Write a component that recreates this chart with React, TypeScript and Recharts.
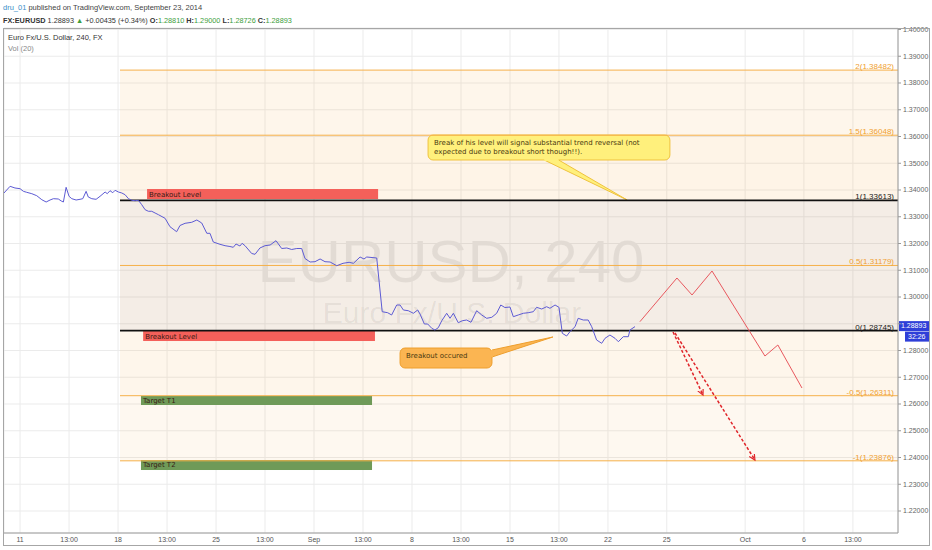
import React from 'react';
import {
  CartesianGrid,
  Line,
  LineChart,
  ReferenceArea,
  ReferenceLine,
  XAxis,
  YAxis,
} from 'recharts';

// trading days counted from Mon Aug 11 (weekends skipped), EURUSD 240
const dayIdx = [
  -0.82, -0.51, -0.26, 0, 0.17, 0.34, 0.6, 0.85, 1.11, 1.33, 1.53, 1.7, 1.95, 2.13, 2.21, 2.35, 2.5, 2.64,
  2.86, 3.06, 3.2, 3.37, 3.48, 3.66, 3.88, 4.08, 4.34, 4.45, 4.59, 4.73, 4.85, 5.02, 5.19, 5.36, 5.53, 5.7,
  5.87, 6.04, 6.21, 6.38, 6.55, 6.72, 6.89, 7.06, 7.4, 7.65, 7.99, 8.16, 8.42, 8.76, 9.02, 9.27, 9.53, 9.69,
  9.86, 10.2, 10.46, 10.71, 10.88, 11.02, 11.22, 11.33, 11.48, 11.82, 11.99, 12.24, 12.5, 12.76, 13.06, 13.35,
  13.61, 13.86, 14.12, 14.37, 14.54, 14.8, 15.05, 15.31, 15.56, 15.82, 16.16, 16.48, 16.79, 17.01, 17.35,
  17.55, 17.69, 18.2, 18.48, 18.76, 18.96, 19.22, 19.39, 19.56, 19.81, 20.07, 20.29, 20.41, 20.63, 20.8,
  21.01, 21.17, 21.34, 21.52, 21.77, 21.94, 22.11, 22.36, 22.57, 22.79, 23.01, 23.3, 23.56, 23.81, 24.07,
  24.32, 24.53, 24.74, 25.0, 25.17, 25.42, 25.68, 25.93, 26.19, 26.36, 26.62, 26.87, 27.04, 27.3, 27.5,
  27.67, 27.89, 28.06, 28.32, 28.48, 28.74, 28.99, 29.17, 29.42, 29.68, 29.85, 30.1, 30.36, 30.53, 30.78,
  31.04, 31.12, 31.38,
];
const close = [
  1.33888, 1.34138, 1.34075, 1.34049, 1.33951, 1.33914, 1.33862, 1.33787, 1.33637, 1.33551, 1.33626, 1.33675,
  1.33664, 1.33578, 1.33551, 1.34101, 1.33764, 1.33675, 1.33626, 1.33652, 1.33675, 1.33951, 1.33738, 1.33675,
  1.33652, 1.33764, 1.33925, 1.33862, 1.33974, 1.33899, 1.33989, 1.33925, 1.33888, 1.33824, 1.33675, 1.33615,
  1.336, 1.33615, 1.3345, 1.33264, 1.33204, 1.33204, 1.3314, 1.33077, 1.32942, 1.32628, 1.32441, 1.32673,
  1.32755, 1.32793, 1.32879, 1.32766, 1.32381, 1.32381, 1.32056, 1.3197, 1.31918, 1.31888, 1.31858, 1.31981,
  1.31907, 1.32007, 1.31918, 1.31626, 1.31596, 1.31832, 1.31918, 1.31944, 1.32105, 1.31813, 1.31832, 1.31776,
  1.31813, 1.31813, 1.31439, 1.31308, 1.3132, 1.31421, 1.3132, 1.31308, 1.3117, 1.3126, 1.31297, 1.3126,
  1.31495, 1.31421, 1.31495, 1.31458, 1.2945, 1.29413, 1.29327, 1.29701, 1.29701, 1.29514, 1.29488, 1.29391,
  1.29514, 1.29364, 1.28991, 1.28991, 1.2883, 1.28766, 1.28852, 1.29114, 1.29391, 1.29204, 1.29391, 1.29039,
  1.29114, 1.2914, 1.29054, 1.29488, 1.29327, 1.29204, 1.29241, 1.29391, 1.29701, 1.29607, 1.29626, 1.29264,
  1.29327, 1.29391, 1.29413, 1.2945, 1.29615, 1.29551, 1.29637, 1.29578, 1.29701, 1.29615, 1.28643, 1.28542,
  1.28703, 1.2889, 1.29204, 1.2914, 1.2914, 1.2889, 1.28393, 1.28269, 1.28456, 1.28579, 1.28456, 1.28329,
  1.28516, 1.28516, 1.28766, 1.28893,
];

// hand drawn projection
const projDays = [31.63, 33.52, 34.29, 35.31, 38.01, 38.67, 39.9];
const projPrices = [1.29077, 1.3071, 1.30075, 1.30972, 1.27794, 1.28206, 1.26598];
const arrowADays = [33.32, 34.85];
const arrowAPrices = [1.28692, 1.26336];
const arrowBDays = [33.42, 37.5];
const arrowBPrices = [1.28654, 1.23907];

// fibonacci extension
const fibRatios = ['2', '1.5', '1', '0.5', '0', '-0.5', '-1'];
const fibPrices = [1.38482, 1.36048, 1.33613, 1.31179, 1.28745, 1.26311, 1.23876];
const fibStartDay = 5.1;
const fibEndDay = 44.8;

// labelled zones
const zoneLabels = ['Breakout Level', 'Breakout Level', 'Target T1', 'Target T2'];
const zoneStartDay = [6.48, 6.28, 6.17, 6.17];
const zoneEndDay = [18.27, 18.11, 17.96, 17.96];
const zoneLow = [1.33663, 1.28355, 1.25963, 1.23533];
const zoneHigh = [1.34037, 1.28729, 1.26299, 1.23907];

// callouts
const noteLines = [
  ['Break of his level will signal substantial trend reversal (not', 'expected due to breakout short though!!).'],
  ['Breakout occured'],
];
const noteStartDay = [20.82, 19.39];
const noteEndDay = [33.16, 24.08];
const noteLow = [1.35121, 1.27346];
const noteHigh = [1.36056, 1.28093];
const noteTipDay = [30.98, 27.19];
const noteTipPrice = [1.33626, 1.28505];

const tickDays = [0, 2.5, 5, 7.5, 10, 12.5, 15, 17.5, 20, 22.5, 25, 27.5, 30, 33, 37, 40, 42.5];
const tickLabels = ['11', '13:00', '18', '13:00', '25', '13:00', 'Sep', '13:00', '8', '13:00', '15', '13:00', '22', '25', 'Oct', '6', '13:00'];
const priceTicks = [1.22, 1.23, 1.24, 1.25, 1.26, 1.27, 1.28, 1.29, 1.3, 1.31, 1.32, 1.33, 1.34, 1.35, 1.36, 1.37, 1.38, 1.39, 1.4];
// the 1.29 tick sits under the last-price tag
const hiddenPriceTick = 1.29;

const lastPrice = 1.28893;
const countdown = '32:26';

const priceData = dayIdx.map((d, i) => ({ d, price: close[i] }));
const projData = projDays.map((d, i) => ({ d, price: projPrices[i] }));
const arrowAData = arrowADays.map((d, i) => ({ d, price: arrowAPrices[i] }));
const arrowBData = arrowBDays.map((d, i) => ({ d, price: arrowBPrices[i] }));

const FONT = '"Liberation Sans", Arial, sans-serif';
const NOTE_FONT = '"DejaVu Sans", Verdana, sans-serif';
const bandFills = ['#f3a23a', '#f3a23a', '#b08050', '#b08050', '#f3a23a', '#f3a23a'];
const bandOpacity = [0.1, 0.12, 0.14, 0.14, 0.1, 0.08];
const zoneFills = ['#f4605a', '#f4605a', '#6f9a58', '#6f9a58'];
const noteFills = ['#fff07c', '#fbb552'];
const noteStrokes = ['#efc23e', '#ee9e2c'];

function makeCallout(i: number) {
  return (p: any) => {
    const { x, y, width, height } = p;
    const sx = width / (noteEndDay[i] - noteStartDay[i]);
    const sy = height / (noteHigh[i] - noteLow[i]);
    const tx = x + (noteTipDay[i] - noteStartDay[i]) * sx;
    const ty = y + (noteHigh[i] - noteTipPrice[i]) * sy;
    // wedge base on the box edge
    const base =
      i === 0
        ? [
            [x + width * 0.48, y + height],
            [x + width * 0.54, y + height],
          ]
        : [
            [x + width, y + 2],
            [x + width, y + 9],
          ];
    return (
      <g>
        <rect x={x} y={y} width={width} height={height} rx={5} fill={noteFills[i]} stroke={noteStrokes[i]} />
        <polygon
          points={`${base[0][0]},${base[0][1]} ${tx},${ty} ${base[1][0]},${base[1][1]}`}
          fill={noteFills[i]}
          stroke={noteStrokes[i]}
        />
        <line x1={base[0][0]} y1={base[0][1]} x2={base[1][0]} y2={base[1][1]} stroke={noteFills[i]} strokeWidth={2} />
        {noteLines[i].map((t, k) => (
          <text key={k} x={x + 6} y={y + 10 + k * 9} fontSize={7} fontFamily={NOTE_FONT} fill="#4a3a10">
            {t}
          </text>
        ))}
      </g>
    );
  };
}

function makeZone(i: number) {
  return (p: any) => (
    <g>
      <rect x={p.x} y={p.y} width={p.width} height={p.height} fill={zoneFills[i]} />
      <text x={p.x + 2} y={p.y + p.height / 2 + 2.5} fontSize={7} fontFamily={NOTE_FONT} fill="#3a1a14">
        {zoneLabels[i]}
      </text>
    </g>
  );
}

export default function App() {
  return (
    <div style={{ position: 'absolute', left: 0, top: 0, width: 932, height: 550, background: '#fff', fontFamily: FONT }}>
      <svg width={932} height={550} style={{ position: 'absolute', left: 0, top: 0 }}>
        <defs>
          <marker id="redArrow" markerWidth={8} markerHeight={8} refX={6} refY={3} orient="auto" markerUnits="userSpaceOnUse">
            <path d="M0,0 L6,3 L0,6" fill="none" stroke="#e0262b" strokeWidth={1.2} />
          </marker>
        </defs>
        <text x={3} y={10} fontSize={7.5} fill="#444">
          <tspan fill="#3a8fc8">dru_01</tspan> published on TradingView.com, September 23, 2014
        </text>
        <text x={3} y={23} fontSize={7.3} fill="#333">
          <tspan fontWeight="bold">FX:EURUSD</tspan> 1.28893 <tspan fill="#3c9e3c">▲</tspan> +0.00435 (+0.34%){' '}
          <tspan fontWeight="bold">O:</tspan><tspan fill="#3c9e3c">1.28810</tspan> <tspan fontWeight="bold">H:</tspan>
          <tspan fill="#3c9e3c">1.29000</tspan> <tspan fontWeight="bold">L:</tspan><tspan fill="#3c9e3c">1.28726</tspan>{' '}
          <tspan fontWeight="bold">C:</tspan><tspan fill="#3c9e3c">1.28893</tspan>
        </text>
        <text x={451} y={282} fontSize={60} textAnchor="middle" fill="#000" fillOpacity={0.08}>
          EURUSD, 240
        </text>
        <text x={452} y={323} fontSize={30} textAnchor="middle" fill="#000" fillOpacity={0.08}>
          Euro Fx/U.S. Dollar
        </text>
      </svg>
      <div style={{ position: 'absolute', left: 0, top: 0 }}>
        <LineChart width={932} height={550} margin={{ top: 28, right: 2, bottom: 4, left: 4 }}>
          <CartesianGrid stroke="#ebebeb" />
          <XAxis
            type="number"
            dataKey="d"
            domain={[-0.82, 44.8]}
            ticks={tickDays}
            interval={0}
            allowDataOverflow
            height={13}
            tickSize={2}
            tickLine={false}
            axisLine={{ stroke: '#9a9a9a' }}
            tick={{ fontSize: 7, fill: '#555', fontFamily: FONT }}
            tickFormatter={(v: number) => tickLabels[tickDays.indexOf(v)] ?? ''}
          />
          <YAxis
            orientation="right"
            type="number"
            domain={[1.21178, 1.40056]}
            ticks={priceTicks}
            interval={0}
            allowDataOverflow
            width={32}
            tickSize={3}
            tickLine={{ stroke: '#999' }}
            axisLine={{ stroke: '#9a9a9a' }}
            tick={{ fontSize: 7, fill: '#666', fontFamily: FONT }}
            tickFormatter={(v: number) => (Math.abs(v - hiddenPriceTick) < 1e-9 ? '' : v.toFixed(5))}
          />
          {fibPrices.slice(0, -1).map((p, i) => (
            <ReferenceArea
              key={`band${i}`}
              x1={fibStartDay}
              x2={fibEndDay}
              y1={fibPrices[i + 1]}
              y2={p}
              fill={bandFills[i]}
              fillOpacity={bandOpacity[i]}
              stroke="none"
            />
          ))}
          {fibPrices.map((p, i) => {
            const key = fibRatios[i] === '1' || fibRatios[i] === '0';
            return (
              <ReferenceLine
                key={`fib${i}`}
                segment={[
                  { x: fibStartDay, y: p },
                  { x: fibEndDay, y: p },
                ]}
                stroke={key ? '#111' : '#f5b04a'}
                strokeWidth={key ? 1.6 : 1}
                label={(lp: any) => (
                  <text
                    x={lp.viewBox.x + lp.viewBox.width - 4}
                    y={lp.viewBox.y - 1}
                    textAnchor="end"
                    fontSize={8}
                    fontFamily={FONT}
                    fill={key ? '#222' : '#f0a030'}
                  >
                    {`${fibRatios[i]}(${p.toFixed(5)})`}
                  </text>
                )}
              />
            );
          })}
          {zoneLabels.map((_, i) => (
            <ReferenceArea
              key={`zone${i}`}
              x1={zoneStartDay[i]}
              x2={zoneEndDay[i]}
              y1={zoneLow[i]}
              y2={zoneHigh[i]}
              shape={makeZone(i)}
            />
          ))}
          {noteLines.map((_, i) => (
            <ReferenceArea
              key={`note${i}`}
              x1={noteStartDay[i]}
              x2={noteEndDay[i]}
              y1={noteLow[i]}
              y2={noteHigh[i]}
              shape={makeCallout(i)}
            />
          ))}
          <Line data={priceData} dataKey="price" type="linear" stroke="#5d5bd4" strokeWidth={1} dot={false} isAnimationActive={false} />
          <Line data={projData} dataKey="price" type="linear" stroke="#e8585e" strokeWidth={1} dot={false} isAnimationActive={false} />
          <Line
            data={arrowAData}
            dataKey="price"
            type="linear"
            stroke="#e0262b"
            strokeWidth={1.5}
            strokeDasharray="3 2"
            markerEnd="url(#redArrow)"
            dot={false}
            isAnimationActive={false}
          />
          <Line
            data={arrowBData}
            dataKey="price"
            type="linear"
            stroke="#e0262b"
            strokeWidth={1.5}
            strokeDasharray="3 2"
            markerEnd="url(#redArrow)"
            dot={false}
            isAnimationActive={false}
          />
          <ReferenceLine
            y={lastPrice}
            stroke="none"
            label={(lp: any) => {
              const rx = lp.viewBox.x + lp.viewBox.width + 1;
              const ry = lp.viewBox.y;
              return (
                <g>
                  <rect x={rx} y={ry - 5.5} width={30} height={10} fill="#2f3fd8" />
                  <text x={rx + 2} y={ry + 1.8} fontSize={7} fill="#fff" fontFamily={FONT}>
                    {lastPrice.toFixed(5)}
                  </text>
                  <rect x={rx + 6} y={ry + 5} width={24} height={10} fill="#2f3fd8" />
                  <text x={rx + 9} y={ry + 12.6} fontSize={7} fill="#fff" fontFamily={FONT}>
                    {countdown}
                  </text>
                </g>
              );
            }}
          />
        </LineChart>
      </div>
      <svg width={932} height={550} style={{ position: 'absolute', left: 0, top: 0, pointerEvents: 'none' }}>
        <rect x={3.5} y={28.5} width={926} height={517} fill="none" stroke="#a6a6a6" />
        <text x={8} y={40} fontSize={7.5} fill="#333" fontFamily={FONT}>
          Euro Fx/U.S. Dollar, 240, FX
        </text>
        <text x={8} y={51} fontSize={7.5} fill="#888" fontFamily={FONT}>
          Vol (20)
        </text>
      </svg>
    </div>
  );
}
